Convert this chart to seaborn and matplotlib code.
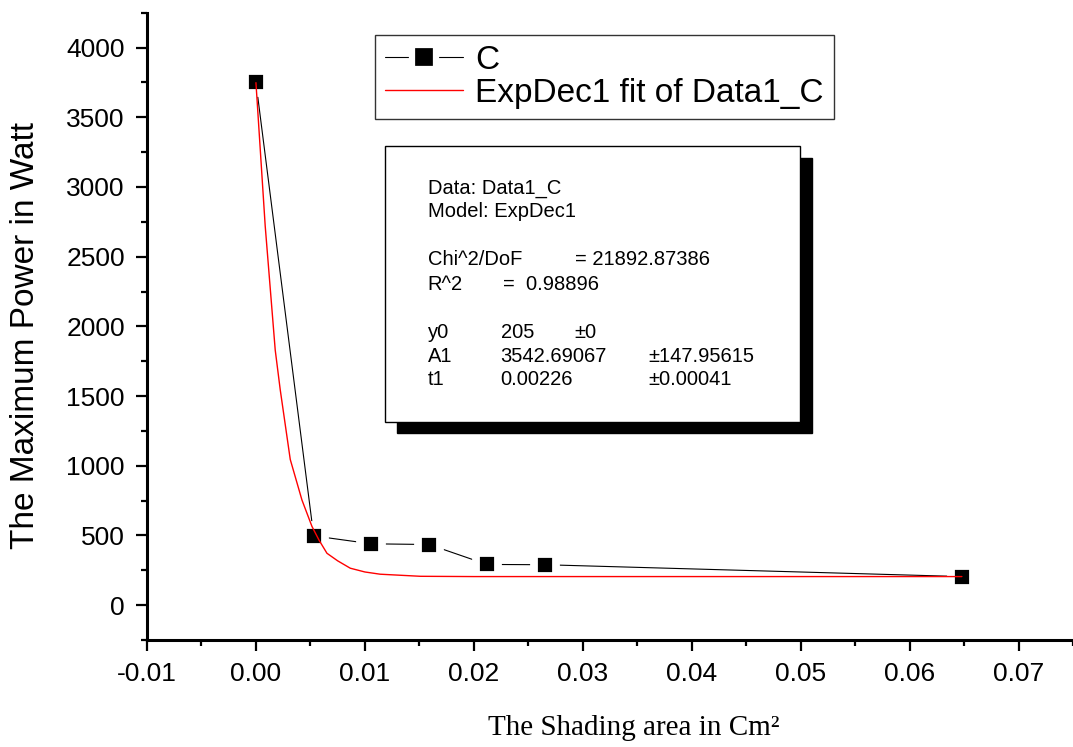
import matplotlib
matplotlib.use("Agg")
import matplotlib.pyplot as plt
import seaborn as sns
from matplotlib.patches import Rectangle
from matplotlib.ticker import MultipleLocator, FormatStrFormatter

# measured data (shading area vs max power)
area = [0.0, 0.0053, 0.0106, 0.0159, 0.0212, 0.0265, 0.0648]
power = [3750, 497, 440, 435, 292, 290, 205]

# ExpDec1 fit curve
fit_area = [0.0, 0.00085, 0.00177, 0.00223, 0.00315, 0.00422, 0.00514, 0.0058,
            0.00652, 0.0075, 0.00866, 0.0100, 0.0114, 0.0151, 0.020, 0.030,
            0.045, 0.0648]
fit_power = [3748, 2720, 1830, 1545, 1045, 755, 565, 465,
             372, 318, 265, 238, 222, 207, 205, 205,
             205, 205]

fit_info = [
    ("Data: Data1_C", None, None),
    ("Model: ExpDec1", None, None),
    ("Chi^2/DoF", "= 21892.87386", None),
    ("R^2", "=  0.98896", None),
    ("y0", "205", "\u00b10"),
    ("A1", "3542.69067", "\u00b1147.95615"),
    ("t1", "0.00226", "\u00b10.00041"),
]

W, H = 1073, 747

sns.set_theme(style="ticks")
plt.rcParams["font.family"] = ["Liberation Sans", "DejaVu Sans"]
plt.rcParams["text.color"] = "black"
plt.rcParams["axes.labelcolor"] = "black"

fig = plt.figure(figsize=(W / 100, H / 100), dpi=100)
ax = fig.add_axes([147 / W, (H - 640) / H, (W - 147) / W, (640 - 12.7) / H])


def px(x, y):
    # pixel position (from top-left) -> figure fraction
    return x / W, 1 - y / H


sns.lineplot(x=area, y=power, ax=ax, color="black", linewidth=0.8,
             marker="s", markersize=15.5, markerfacecolor="black",
             markeredgecolor="white", markeredgewidth=5.6, label="C",
             sort=False, zorder=3)
sns.lineplot(x=fit_area, y=fit_power, ax=ax, color="red", linewidth=1.0,
             label="ExpDec1 fit of Data1_C", sort=False, zorder=4)

ax.set_xlim(-0.01, 0.075)
ax.set_ylim(-250, 4250)
ax.xaxis.set_major_locator(MultipleLocator(0.01))
ax.xaxis.set_minor_locator(MultipleLocator(0.005))
ax.xaxis.set_major_formatter(FormatStrFormatter("%.2f"))
ax.yaxis.set_major_locator(MultipleLocator(500))
ax.yaxis.set_minor_locator(MultipleLocator(250))

for side in ["top", "right"]:
    ax.spines[side].set_visible(False)
for side in ["left", "bottom"]:
    ax.spines[side].set_linewidth(2.2)
    ax.spines[side].set_color("black")
ax.tick_params(which="major", direction="out", length=8, width=1.6,
               labelsize=19, colors="black", pad=8)
ax.tick_params(which="minor", direction="out", length=4.5, width=1.6,
               colors="black")

ax.set_ylabel("The Maximum Power in Watt", fontsize=24, color="black")
ax.yaxis.set_label_coords((41 - 147) / (W - 147), 0.485)
ax.set_xlabel("The Shading area in Cm\u00b2", fontsize=21, color="black",
              family=["Liberation Serif", "DejaVu Serif"])
ax.xaxis.label.set_va("baseline")
ax.xaxis.set_label_coords((634 - 147) / (W - 147), (640 - 735) / (640 - 12.7))

leg = ax.legend(loc="upper left", bbox_to_anchor=px(375, 35),
                bbox_transform=fig.transFigure, borderaxespad=0,
                fontsize=24, frameon=True, fancybox=False, shadow=False,
                handlelength=2.35, handletextpad=0.35, labelspacing=0.05,
                borderpad=0.3)
leg.get_frame().set_edgecolor("black")
leg.get_frame().set_linewidth(1.0)
h0 = leg.legend_handles[0]
h0.set_markersize(17)
h0.set_markeredgewidth(4.5)

# fit parameter box with drop shadow
x0, y0 = px(397, 433)
x1, y1 = px(812, 158)
fig.patches.append(Rectangle((x0, y0), x1 - x0, y1 - y0, transform=fig.transFigure,
                             facecolor="black", edgecolor="black", zorder=5))
x0, y0 = px(385, 422)
x1, y1 = px(800, 146)
fig.patches.append(Rectangle((x0, y0), x1 - x0, y1 - y0, transform=fig.transFigure,
                             facecolor="white", edgecolor="black", linewidth=1.0,
                             zorder=6))

baselines = [194, 216.7, 265, 290, 338, 361.7, 385]
col2 = {2: 575, 3: 503}
for i, (a, b, c) in enumerate(fit_info):
    yb = baselines[i]
    fig.text(*px(427.7, yb), a, fontsize=14.5, va="baseline", zorder=7)
    if b is not None:
        fig.text(*px(col2.get(i, 500.7), yb), b, fontsize=14.5, va="baseline", zorder=7)
    if c is not None:
        xc = 574.3 if i == 4 else 648.3
        fig.text(*px(xc, yb), c, fontsize=14.5, va="baseline", zorder=7)

fig.savefig("out.png", dpi=100)
